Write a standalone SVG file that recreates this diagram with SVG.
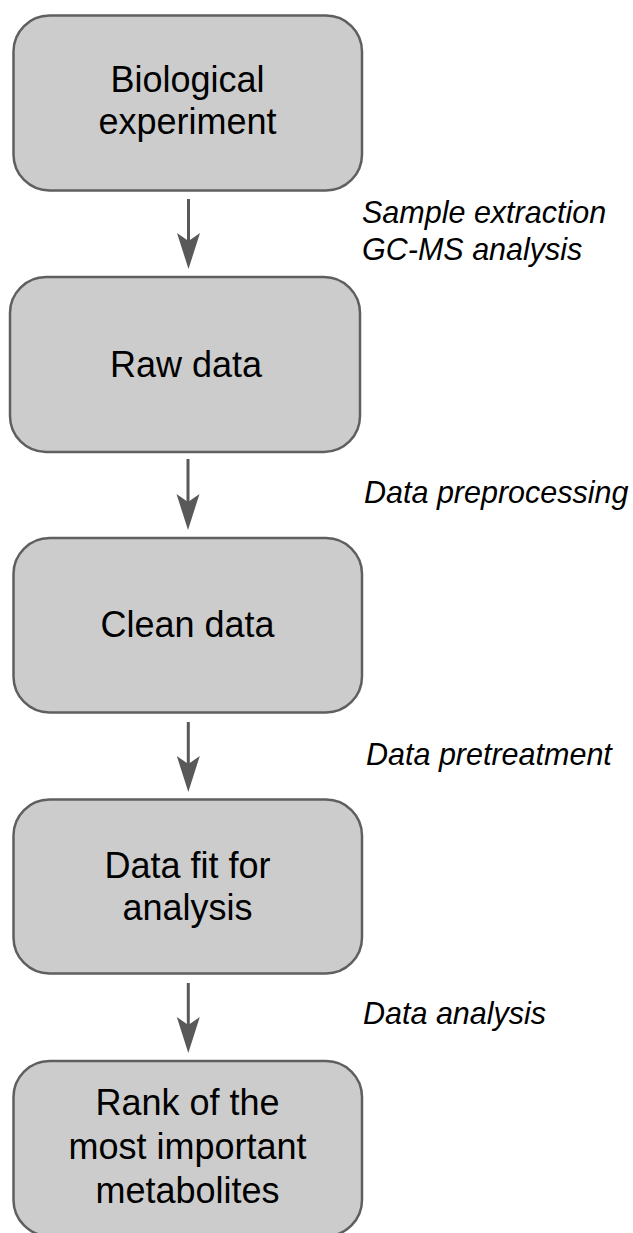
<svg xmlns="http://www.w3.org/2000/svg" width="633" height="1233" viewBox="0 0 633 1233">
  <style>
    .box { fill: #cccccc; stroke: #5f5f5f; stroke-width: 2.5; }
    .nt { font-family: "Liberation Sans", Arial, sans-serif; font-size: 36px; fill: #000; text-anchor: middle; }
    .lbl { font-family: "Liberation Sans", Arial, sans-serif; font-size: 30.5px; font-style: italic; fill: #000; }
    .conn { stroke: #595959; stroke-width: 3; fill: none; }
  </style>
  <defs>
    <marker id="ah" markerUnits="userSpaceOnUse" markerWidth="40" markerHeight="30" viewBox="0 -15 40 30" refX="8" refY="0" orient="auto" overflow="visible">
      <path d="M0,-11.5 L8,0 L0,11.5 L36,0 Z" fill="#595959"/>
    </marker>
  </defs>
  <rect width="633" height="1233" fill="#ffffff"/>

  <g id="node-biological">
    <rect class="box" x="13.5" y="15.5" width="348.5" height="175" rx="36" ry="36"/>
    <text class="nt" x="187.5" y="92">Biological</text>
    <text class="nt" x="187.5" y="134">experiment</text>
  </g>
  <g id="node-raw">
    <rect class="box" x="10" y="277" width="350" height="175" rx="36" ry="36"/>
    <text class="nt" x="186" y="377">Raw data</text>
  </g>
  <g id="node-clean">
    <rect class="box" x="13.5" y="538" width="348.5" height="174.5" rx="36" ry="36"/>
    <text class="nt" x="187.5" y="637">Clean data</text>
  </g>
  <g id="node-fit">
    <rect class="box" x="13.5" y="799.5" width="348.5" height="174" rx="36" ry="36"/>
    <text class="nt" x="187.5" y="878">Data fit for</text>
    <text class="nt" x="187.5" y="920">analysis</text>
  </g>
  <g id="node-rank">
    <rect class="box" x="13.5" y="1061" width="348.5" height="175" rx="36" ry="36"/>
    <text class="nt" x="187.5" y="1115">Rank of the</text>
    <text class="nt" x="187.5" y="1159">most important</text>
    <text class="nt" x="187.5" y="1203">metabolites</text>
  </g>

  <g id="connectors">
    <line class="conn" x1="188.5" y1="199" x2="188.5" y2="241" marker-end="url(#ah)"/>
    <line class="conn" x1="188" y1="459" x2="188" y2="502" marker-end="url(#ah)"/>
    <line class="conn" x1="188.3" y1="722" x2="188.3" y2="764" marker-end="url(#ah)"/>
    <line class="conn" x1="188.3" y1="983" x2="188.3" y2="1025" marker-end="url(#ah)"/>
  </g>

  <g id="labels">
    <text class="lbl" x="362" y="222.5">Sample extraction</text>
    <text class="lbl" x="362" y="260">GC-MS analysis</text>
    <text class="lbl" x="364" y="503">Data preprocessing</text>
    <text class="lbl" x="366" y="765">Data pretreatment</text>
    <text class="lbl" x="363" y="1024">Data analysis</text>
  </g>
</svg>
